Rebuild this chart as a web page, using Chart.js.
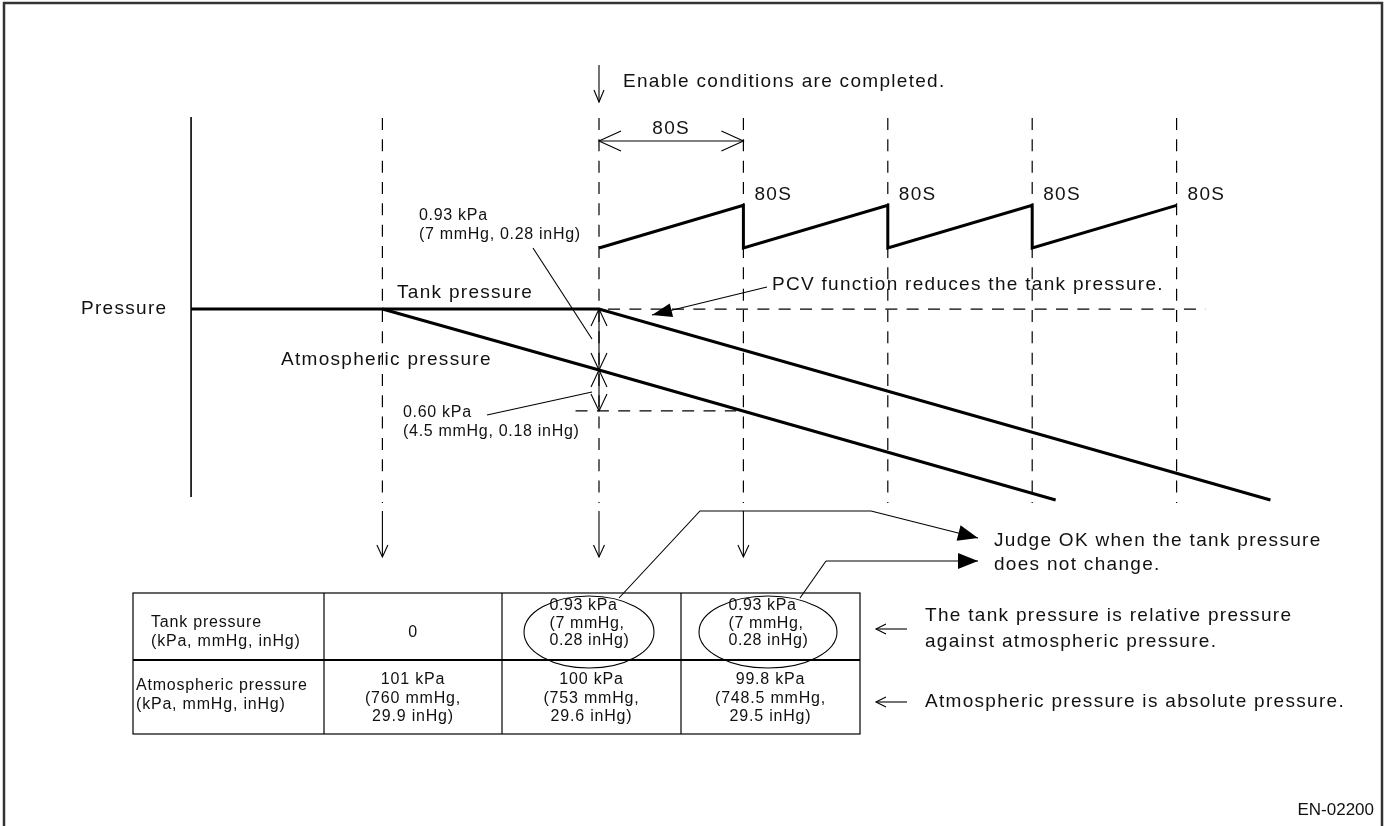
<!DOCTYPE html>
<html>
<head>
<meta charset="utf-8">
<script src="https://cdn.jsdelivr.net/npm/chart.js@4.4.1/dist/chart.umd.min.js"></script>
<style>
html, body { margin: 0; padding: 0; background: #fff; }
canvas { display: block; }
</style>
</head>
<body>
<canvas id="diagram" width="1388" height="826"></canvas>
<script>
// time in seconds, 0 = enable conditions completed; pressure in kPa (schematic)
var markerTimes = [-120, 0, 80, 160, 240, 320];
var cycleTimes = [80, 160, 240, 320];
var tankTimes = [-226, 0, 372];
var tankPressure = [101, 101, 97.87];
var atmTimes = [-120, 0, 253];
var atmPressure = [101, 100, 97.87];
var purgeTimes = [0, 80, 80, 160, 160, 240, 240, 320];
var purgeLevel = [102.0, 102.7, 102.0, 102.7, 102.0, 102.7, 102.0, 102.7];
var refTankTimes = [0, 336];
var refAtmTimes = [-13, 76];
var atmAt80 = 99.33;
var cycleLabel = '80S';

// table below the chart
var rowHeads = [['Tank pressure', '(kPa, mmHg, inHg)'], ['Atmospheric pressure', '(kPa, mmHg, inHg)']];
var tankRow = [['0'], ['0.93 kPa', '(7 mmHg,', '0.28 inHg)'], ['0.93 kPa', '(7 mmHg,', '0.28 inHg)']];
var atmRow = [['101 kPa', '(760 mmHg,', '29.9 inHg)'], ['100 kPa', '(753 mmHg,', '29.6 inHg)'], ['99.8 kPa', '(748.5 mmHg,', '29.5 inHg)']];

var FONT = '"Liberation Sans", Arial, Helvetica, sans-serif';
var BIG = 19, BIG_SP = 1.3;    // labels and notes
var SMALL = 16, SMALL_SP = 0.7; // pressure annotations

function pts(xs, ys) {
    return xs.map(function (t, i) { return { x: t, y: ys[i] }; });
}

function txt(ctx, s, x, y, size, spacing, align) {
    ctx.font = size + 'px ' + FONT;
    ctx.letterSpacing = spacing + 'px';
    ctx.textAlign = align || 'left';
    ctx.textBaseline = 'middle';
    ctx.fillStyle = '#111';
    ctx.fillText(s, x, y);
}

function seg(ctx, p, w, dash, offset) {
    ctx.save();
    ctx.strokeStyle = '#000';
    ctx.lineWidth = w;
    ctx.setLineDash(dash || []);
    ctx.lineDashOffset = offset || 0;
    ctx.beginPath();
    ctx.moveTo(p[0][0], p[0][1]);
    for (var i = 1; i < p.length; i++) ctx.lineTo(p[i][0], p[i][1]);
    ctx.stroke();
    ctx.restore();
}

function head(ctx, fx, fy, tx, ty, len, half, filled) {
    var a = Math.atan2(ty - fy, tx - fx);
    var bx = tx - len * Math.cos(a), by = ty - len * Math.sin(a);
    var px = -Math.sin(a) * half, py = Math.cos(a) * half;
    ctx.save();
    ctx.strokeStyle = '#000';
    ctx.fillStyle = '#000';
    ctx.lineWidth = 1.1;
    ctx.beginPath();
    ctx.moveTo(bx + px, by + py);
    ctx.lineTo(tx, ty);
    ctx.lineTo(bx - px, by - py);
    if (filled) { ctx.closePath(); ctx.fill(); } else { ctx.stroke(); }
    ctx.restore();
}

function arrow(ctx, x1, y1, x2, y2, len, half, filled) {
    seg(ctx, [[x1, y1], [x2, y2]], 1.1);
    head(ctx, x1, y1, x2, y2, len, half, filled);
}

var diagramPlugin = {
    id: 'diagram',
    beforeDatasetsDraw: function (chart) {
        var ctx = chart.ctx, xs = chart.scales.x;
        // frame
        ctx.save();
        ctx.strokeStyle = '#333';
        ctx.lineWidth = 2.5;
        ctx.beginPath();
        ctx.moveTo(4, 826); ctx.lineTo(4, 3); ctx.lineTo(1382, 3); ctx.lineTo(1382, 826);
        ctx.stroke();
        ctx.restore();
        // pressure axis
        var ax = xs.getPixelForValue(tankTimes[0]);
        seg(ctx, [[ax, 117], [ax, 497]], 1.6);
        // time markers
        markerTimes.forEach(function (t) {
            var x = xs.getPixelForValue(t);
            seg(ctx, [[x, 118], [x, 503]], 1.2, [12, 9.33]);
        });
    },
    afterDatasetsDraw: function (chart) {
        var ctx = chart.ctx, xs = chart.scales.x, ys = chart.scales.y;
        var x0 = xs.getPixelForValue(0), x80 = xs.getPixelForValue(80);

        // enable arrow + text
        arrow(ctx, x0, 65, x0, 102, 12, 5, false);
        txt(ctx, 'Enable conditions are completed.', 623, 82, BIG, BIG_SP);

        // 80 s dimension
        seg(ctx, [[x0, 141], [x80, 141]], 1.1);
        head(ctx, x80, 141, x0, 141, 22, 10, false);
        head(ctx, x0, 141, x80, 141, 22, 10, false);
        txt(ctx, cycleLabel, (x0 + x80) / 2, 129, BIG, BIG_SP, 'center');

        cycleTimes.forEach(function (t) {
            txt(ctx, cycleLabel, xs.getPixelForValue(t) + 11, 195, BIG, BIG_SP);
        });

        // labels
        txt(ctx, 'Pressure', 81, 309, BIG, BIG_SP);
        txt(ctx, 'Tank pressure', 397, 293, BIG, BIG_SP);
        txt(ctx, 'Atmospheric pressure', 281, 360, BIG, BIG_SP);

        // relative pressure dimension at enable time
        var yT = ys.getPixelForValue(tankPressure[1]);
        var yA = ys.getPixelForValue(atmPressure[1]);
        var yB = ys.getPixelForValue(atmAt80);
        seg(ctx, [[x0, yT], [x0, yB]], 1.1);
        head(ctx, x0, yA, x0, yT, 17, 8, false);
        head(ctx, x0, yT, x0, yA, 17, 8, false);
        head(ctx, x0, yB, x0, yA, 17, 8, false);
        head(ctx, x0, yA, x0, yB, 17, 8, false);

        txt(ctx, '0.93 kPa', 419, 216, SMALL, SMALL_SP);
        txt(ctx, '(7 mmHg, 0.28 inHg)', 419, 235, SMALL, SMALL_SP);
        seg(ctx, [[533, 248], [592, 339]], 1.1);

        txt(ctx, '0.60 kPa', 403, 413, SMALL, SMALL_SP);
        txt(ctx, '(4.5 mmHg, 0.18 inHg)', 403, 432, SMALL, SMALL_SP);
        seg(ctx, [[487, 415], [592, 392]], 1.1);

        // PCV note
        arrow(ctx, 767, 287, 652, 315, 20, 7, true);
        txt(ctx, 'PCV function reduces the tank pressure.', 772, 285, BIG, BIG_SP);

        // down arrows to the table
        [markerTimes[0], markerTimes[1], markerTimes[2]].forEach(function (t) {
            var x = xs.getPixelForValue(t);
            arrow(ctx, x, 511, x, 557, 12, 5.5, false);
        });

        // table
        var L = 133, R = 860, T = 593, M = 660, B = 734;
        var cols = [L, 324, 502, 681, R];
        ctx.save();
        ctx.strokeStyle = '#000';
        ctx.lineWidth = 1.2;
        ctx.strokeRect(L, T, R - L, B - T);
        cols.slice(1, 4).forEach(function (c) {
            ctx.beginPath(); ctx.moveTo(c, T); ctx.lineTo(c, B); ctx.stroke();
        });
        ctx.lineWidth = 2.2;
        ctx.beginPath(); ctx.moveTo(L, M); ctx.lineTo(R, M); ctx.stroke();
        ctx.restore();

        txt(ctx, rowHeads[0][0], 151, 623, 16, 0.8);
        txt(ctx, rowHeads[0][1], 151, 642, 16, 0.8);
        txt(ctx, rowHeads[1][0], 136, 686, 16, 0.8);
        txt(ctx, rowHeads[1][1], 136, 705, 16, 0.8);

        tankRow.forEach(function (cell, i) {
            var cx = (cols[i + 1] + cols[i + 2]) / 2;
            if (cell.length === 1) {
                txt(ctx, cell[0], cx, 633, 16, 0.8, 'center');
            } else {
                cell.forEach(function (s, j) {
                    txt(ctx, s, cx - 42, 606 + j * 17.5, 16, 0.6);
                });
            }
        });
        atmRow.forEach(function (cell, i) {
            var cx = (cols[i + 1] + cols[i + 2]) / 2;
            cell.forEach(function (s, j) {
                txt(ctx, s, cx, 680 + j * 18.5, 16, 0.8, 'center');
            });
        });

        // ellipses round the judged values
        ctx.save();
        ctx.strokeStyle = '#000';
        ctx.lineWidth = 1.1;
        [[589, 632, 65], [768, 632, 69]].forEach(function (e) {
            ctx.beginPath();
            ctx.ellipse(e[0], e[1], e[2], 36, 0, 0, Math.PI * 2);
            ctx.stroke();
        });
        ctx.restore();

        // judge note
        seg(ctx, [[619, 598], [700, 511], [871, 511]], 1.1);
        arrow(ctx, 871, 511, 978, 538, 20, 8, true);
        seg(ctx, [[800, 598], [826, 561]], 1.1);
        arrow(ctx, 826, 561, 978, 561, 20, 8, true);
        txt(ctx, 'Judge OK when the tank pressure', 994, 541, BIG, BIG_SP);
        txt(ctx, 'does not change.', 994, 565, BIG, BIG_SP);

        // notes on the right of the table
        arrow(ctx, 907, 629, 876, 629, 10, 5, false);
        txt(ctx, 'The tank pressure is relative pressure', 925, 616, BIG, BIG_SP);
        txt(ctx, 'against atmospheric pressure.', 925, 642, BIG, BIG_SP);
        arrow(ctx, 907, 702, 876, 702, 10, 5, false);
        txt(ctx, 'Atmospheric pressure is absolute pressure.', 925, 702, BIG, BIG_SP);

        txt(ctx, 'EN-02200', 1374, 810, 17, 0, 'right');
    }
};

var lineStyle = {
    borderColor: '#000',
    borderWidth: 3,
    pointRadius: 0,
    tension: 0,
    fill: false,
    borderJoinStyle: 'miter',
    borderCapStyle: 'butt'
};

new Chart(document.getElementById('diagram'), {
    type: 'line',
    data: {
        datasets: [
            Object.assign({ label: 'Tank pressure', data: pts(tankTimes, tankPressure) }, lineStyle),
            Object.assign({ label: 'Atmospheric pressure', data: pts(atmTimes, atmPressure) }, lineStyle),
            Object.assign({ label: 'Purge cycle', data: pts(purgeTimes, purgeLevel) }, lineStyle),
            Object.assign({}, lineStyle, {
                label: 'Tank level ref',
                data: pts(refTankTimes, [tankPressure[1], tankPressure[1]]),
                borderWidth: 1.2, borderDash: [12, 9.33], borderDashOffset: 12.3
            }),
            Object.assign({}, lineStyle, {
                label: 'Atmospheric level at 80 s',
                data: pts(refAtmTimes, [atmAt80, atmAt80]),
                borderWidth: 1.2, borderDash: [12, 9.33]
            })
        ]
    },
    options: {
        responsive: false,
        animation: false,
        events: [],
        layout: { padding: 0 },
        plugins: { legend: { display: false }, tooltip: { enabled: false } },
        scales: {
            x: { type: 'linear', min: -331.856, max: 437.119, display: false },
            y: { type: 'linear', min: 92.525, max: 106.066, display: false }
        }
    },
    plugins: [diagramPlugin]
});
</script>
</body>
</html>
